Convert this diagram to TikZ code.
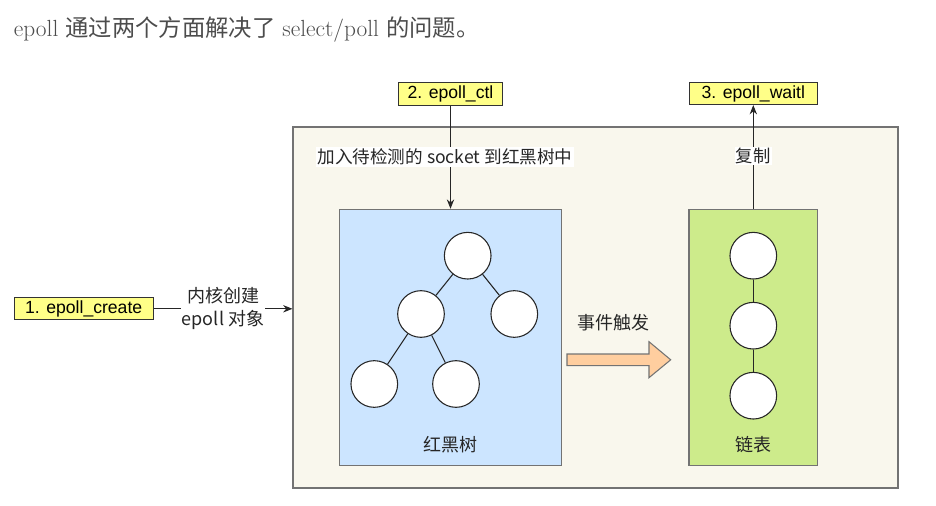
\documentclass[tikz,border=0pt]{standalone}
\usepackage{fontspec}
\newfontfamily\cjk{Noto Sans CJK SC}
\newfontfamily\hel{Liberation Sans}
\usetikzlibrary{arrows.meta}
\definecolor{cream}{HTML}{F9F7ED}
\definecolor{treeblue}{HTML}{CCE5FF}
\definecolor{listgreen}{HTML}{CDEB8B}
\definecolor{fireorange}{HTML}{FFCE9F}
\definecolor{callyellow}{HTML}{FFFF88}

\begin{document}
\begin{tikzpicture}[x=0.75pt,y=-0.75pt,line width=0.8pt,>={Stealth[length=7pt,width=5.5pt]},
  call/.style={draw=black!80,fill=callyellow,inner sep=0pt,font=\hel\fontsize{13.2}{15}\selectfont},
  panel/.style={draw=black!55,inner sep=0pt},
  ball/.style={circle,draw=black!85,fill=white,minimum size=35pt,inner sep=0pt},
  lbl/.style={fill=white,inner sep=1pt,text=black!85,font=\cjk\fontsize{13.5}{17}\selectfont,align=center}]
        \useasboundingbox (0,0) rectangle (936,506);
        \node[anchor=west,text=black!70,font=\fontsize{17.5}{20}\selectfont] (title) at (9,30) {epoll {\cjk 通过两个方面解决了} select/poll {\cjk 的问题。}};

        \node[panel,fill=cream,minimum width=453.75pt,minimum height=270.75pt] (kernel) at (595.5,307.5) {};
        \node[panel,fill=treeblue,minimum width=166.8pt,minimum height=192.3pt] (rbt) at (450.5,337.5) {};
        \node[panel,fill=listgreen,minimum width=96.5pt,minimum height=192.3pt] (list) at (753.3,337.5) {};

        \node[call,minimum width=104.5pt,minimum height=16.7pt] (create) at (83.7,308.8) {1. epoll\_create};
        \node[call,minimum width=78.3pt,minimum height=17.5pt] (ctl) at (450.5,94) {2. epoll\_ctl};
        \node[call,minimum width=96pt,minimum height=16.5pt] (wait) at (753.3,93.5) {3. epoll\_waitl};

        \draw[->,black!85](create.east)--(create.east -| kernel.west);
        \node[lbl] (mk) at (223,308.5) {内核创建\\epoll 对象};
        \draw[->,black!85](ctl.south)--(ctl.south |- rbt.north);
        \node[lbl,font=\cjk\fontsize{13.2}{16}\selectfont] (add) at (445,157) {加入待检测的 socket 到红黑树中};
        \draw[->,black!85](list.north)--(list.north |- wait.south);
        \node[lbl,font=\cjk\fontsize{13}{16}\selectfont] (copy) at (753.3,156) {复制};

        % tree
        \node[ball] (r) at (467.7,255.7) {};
        \node[ball] (a) at (421,314) {};
        \node[ball] (b) at (514.3,314) {};
        \node[ball] (aa) at (374.3,384) {};
        \node[ball] (ab) at (456,384) {};
        \draw[black!85](r)--(a) (r)--(b) (a)--(aa) (a)--(ab);
        \node[lbl,fill=none] (rbtname) at (450,445) {红黑树};

        % list
        \node[ball] (l1) at (753.3,255.7) {};
        \node[ball] (l2) at (753.3,325.7) {};
        \node[ball] (l3) at (753.3,395.7) {};
        \draw[black!85](l1)--(l2)--(l3);
        \node[lbl,fill=none] (listname) at (753.3,445) {链表};

        \draw[draw=black!55,fill=fireorange](567,354)--(649,354)--(649,341.7)--(670.7,359.8)--(649,377.7)--(649,365.7)--(567,365.7)--cycle;
        \node[lbl,fill=none] (fire) at (613,323) {事件触发};
    \end{tikzpicture}
\end{document}
